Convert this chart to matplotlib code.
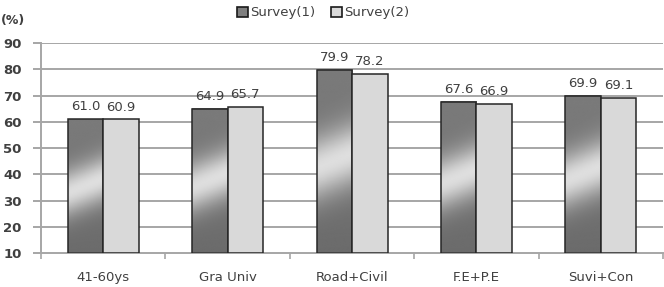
import numpy as np
import matplotlib
matplotlib.use("Agg")
import matplotlib.pyplot as plt
from matplotlib.patches import Rectangle

categories = ["41-60ys", "Gra Univ", "Road+Civil", "F.E+P.E", "Suvi+Con"]
survey1 = [61.0, 64.9, 79.9, 67.6, 69.9]
survey2 = [60.9, 65.7, 78.2, 66.9, 69.1]
series_names = ["Survey(1)", "Survey(2)"]
yticks = [10, 20, 30, 40, 50, 60, 70, 80, 90]

plt.rcParams['font.family'] = ['DejaVu Sans']
fig = plt.figure(figsize=(6.64, 2.87), dpi=100)
ax = fig.add_axes([0.0617, 0.1185, 0.937, 0.7315])
ymin, ymax = 10, 90
ax.set_xlim(0, len(categories))
ax.set_ylim(ymin, ymax)

for y in yticks[1:]:
    ax.axhline(y, color="#a6a6a6", lw=1.4, zorder=0)

bw = 0.285
x = np.arange(len(categories)) + 0.5

# gradient for dark bars
def grad_img(h):
    ny, nx = 240, 40
    yy = np.linspace(ymin, h, ny)[:, None]
    xx = np.linspace(0, 1, nx)[None, :]
    H = (h - ymin) * 2.625
    ypx = (yy - ymin) * 2.625
    xpx = xx * 35
    center = H * 0.5
    d = (ypx - center) - 0.4 * (xpx - 17)
    s = 0.17 * H
    v = 0.42 + 0.42 * np.exp(-(d / s) ** 2)
    v = v + 0.06 * (ypx / max(H, 1))
    return np.clip(v, 0, 1)

for xi, h in zip(x, survey1):
    x0 = xi - bw
    img = grad_img(h)
    ax.imshow(img, extent=[x0, xi, ymin, h], origin="lower", cmap="gray",
              vmin=0, vmax=1, aspect="auto", zorder=2, interpolation="bilinear")
    r = Rectangle((x0, ymin), bw, h - ymin, facecolor="none", edgecolor="#262626", lw=1.1, zorder=3)
    ax.add_patch(r)
    ax.text(x0 + bw / 2, h + 2.2, f"{h:.1f}", ha="center", va="bottom", fontsize=9.5, color="#404040")

ax.bar(x + bw / 2, [v - ymin for v in survey2], bw, bottom=ymin, color="#d9d9d9",
       edgecolor="#262626", lw=1.1, zorder=3)
for xi, h in zip(x, survey2):
    ax.text(xi + bw / 2, h + 2.2, f"{h:.1f}", ha="center", va="bottom", fontsize=9.5, color="#404040")

ax.set_yticks(yticks)
ax.set_yticklabels([str(t) for t in yticks], fontsize=9.5, fontweight="bold", color="#404040")
ax.set_xticks(np.arange(len(categories) + 1), minor=False)
ax.set_xticklabels([])
ax.set_xticks(x, minor=True)
ax.set_xticklabels(categories, minor=True, fontsize=9.5, color="#404040")
ax.tick_params(axis="x", which="minor", length=0, pad=13)
ax.tick_params(axis="x", which="major", length=4, color="#a6a6a6", width=1.2)
ax.tick_params(axis="y", length=6, color="#a6a6a6", width=1.4, pad=8)

for s in ["top", "right"]:
    ax.spines[s].set_visible(False)
for s in ["left", "bottom"]:
    ax.spines[s].set_color("#a6a6a6")
    ax.spines[s].set_linewidth(1.4)

fig.text(0.002, 0.93, "(%)", fontsize=9, fontweight="bold", color="#404040", va="center")

# legend
h1 = Rectangle((0, 0), 1, 1, facecolor="#7f7f7f", edgecolor="#1a1a1a", lw=1.2)
h2 = Rectangle((0, 0), 1, 1, facecolor="#d9d9d9", edgecolor="#1a1a1a", lw=1.2)
fig.legend([h1, h2], series_names, loc="center", bbox_to_anchor=(0.487, 0.955), ncol=2,
           frameon=False, fontsize=9.5, handlelength=0.8, handleheight=0.8,
           handletextpad=0.2, columnspacing=1.2, labelcolor="#404040")

fig.savefig("out.png", dpi=100)
